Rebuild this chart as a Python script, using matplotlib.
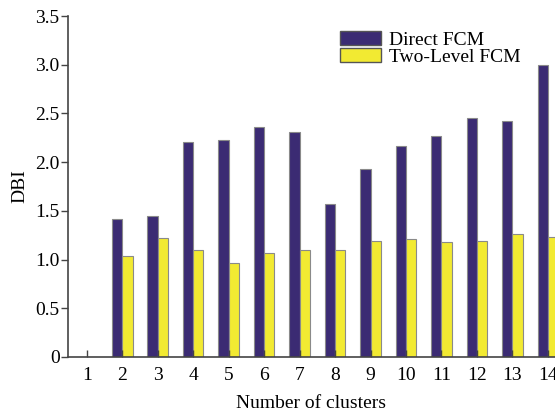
import numpy as np
import matplotlib
matplotlib.use("Agg")
import matplotlib.pyplot as plt
from matplotlib.patches import Patch

# DBI per number of clusters
clusters = list(range(1, 15))
direct_fcm = [0.0, 1.42, 1.45, 2.21, 2.23, 2.36, 2.31, 1.57, 1.93, 2.17, 2.27, 2.45, 2.42, 3.00]
two_level_fcm = [0.0, 1.04, 1.22, 1.10, 0.96, 1.07, 1.10, 1.10, 1.19, 1.21, 1.18, 1.19, 1.26, 1.23]
yticks = [0, 0.5, 1.0, 1.5, 2.0, 2.5, 3.0, 3.5]
ytick_labels = ["0", "0.5", "1.0", "1.5", "2.0", "2.5", "3.0", "3.5"]

plt.rcParams["font.family"] = ["Liberation Serif", "DejaVu Serif"]
fs = 14

fig = plt.figure(figsize=(5.55, 4.12), dpi=100)
ax = fig.add_axes([0.1225, 0.1335, 0.8775, 0.8275])

x = np.array(clusters, dtype=float)
w = 0.29
c_direct = "#3b2b73"
c_two = "#f2ea32"
ax.bar(x - w / 2, direct_fcm, width=w, color=c_direct, edgecolor="#8a8a8a", linewidth=0.8)
ax.bar(x + w / 2, two_level_fcm, width=w, color=c_two, edgecolor="#8a8a8a", linewidth=0.8)

ax.set_xlim(0.47, 14.2)
ax.set_ylim(0, 3.5)
ax.set_xticks(x)
ax.set_xticklabels([str(c) for c in clusters], fontsize=fs)
ax.set_yticks(yticks)
ax.set_yticklabels(ytick_labels, fontsize=fs)
ax.tick_params(axis="y", direction="out", length=5, width=1, color="#444444", pad=1)
ax.tick_params(axis="x", direction="in", length=5, width=1, color="#444444", pad=7)

for s in ["top", "right"]:
    ax.spines[s].set_visible(False)
for s in ["left", "bottom"]:
    ax.spines[s].set_color("#444444")
    ax.spines[s].set_linewidth(1.2)

ax.set_xlabel("Number of clusters", fontsize=fs, labelpad=8)
ax.set_ylabel("DBI", fontsize=fs, labelpad=5)

handles = [Patch(facecolor=c_direct, edgecolor="#555555"),
           Patch(facecolor=c_two, edgecolor="#555555")]
ax.legend(handles, ["Direct FCM", "Two-Level FCM"], loc="upper left",
          bbox_to_anchor=(0.53, 0.995), frameon=False, fontsize=fs,
          handlelength=2.1, handleheight=0.7, handletextpad=0.45,
          labelspacing=-0.05, borderpad=0.2)

fig.savefig("out.png", dpi=100)
